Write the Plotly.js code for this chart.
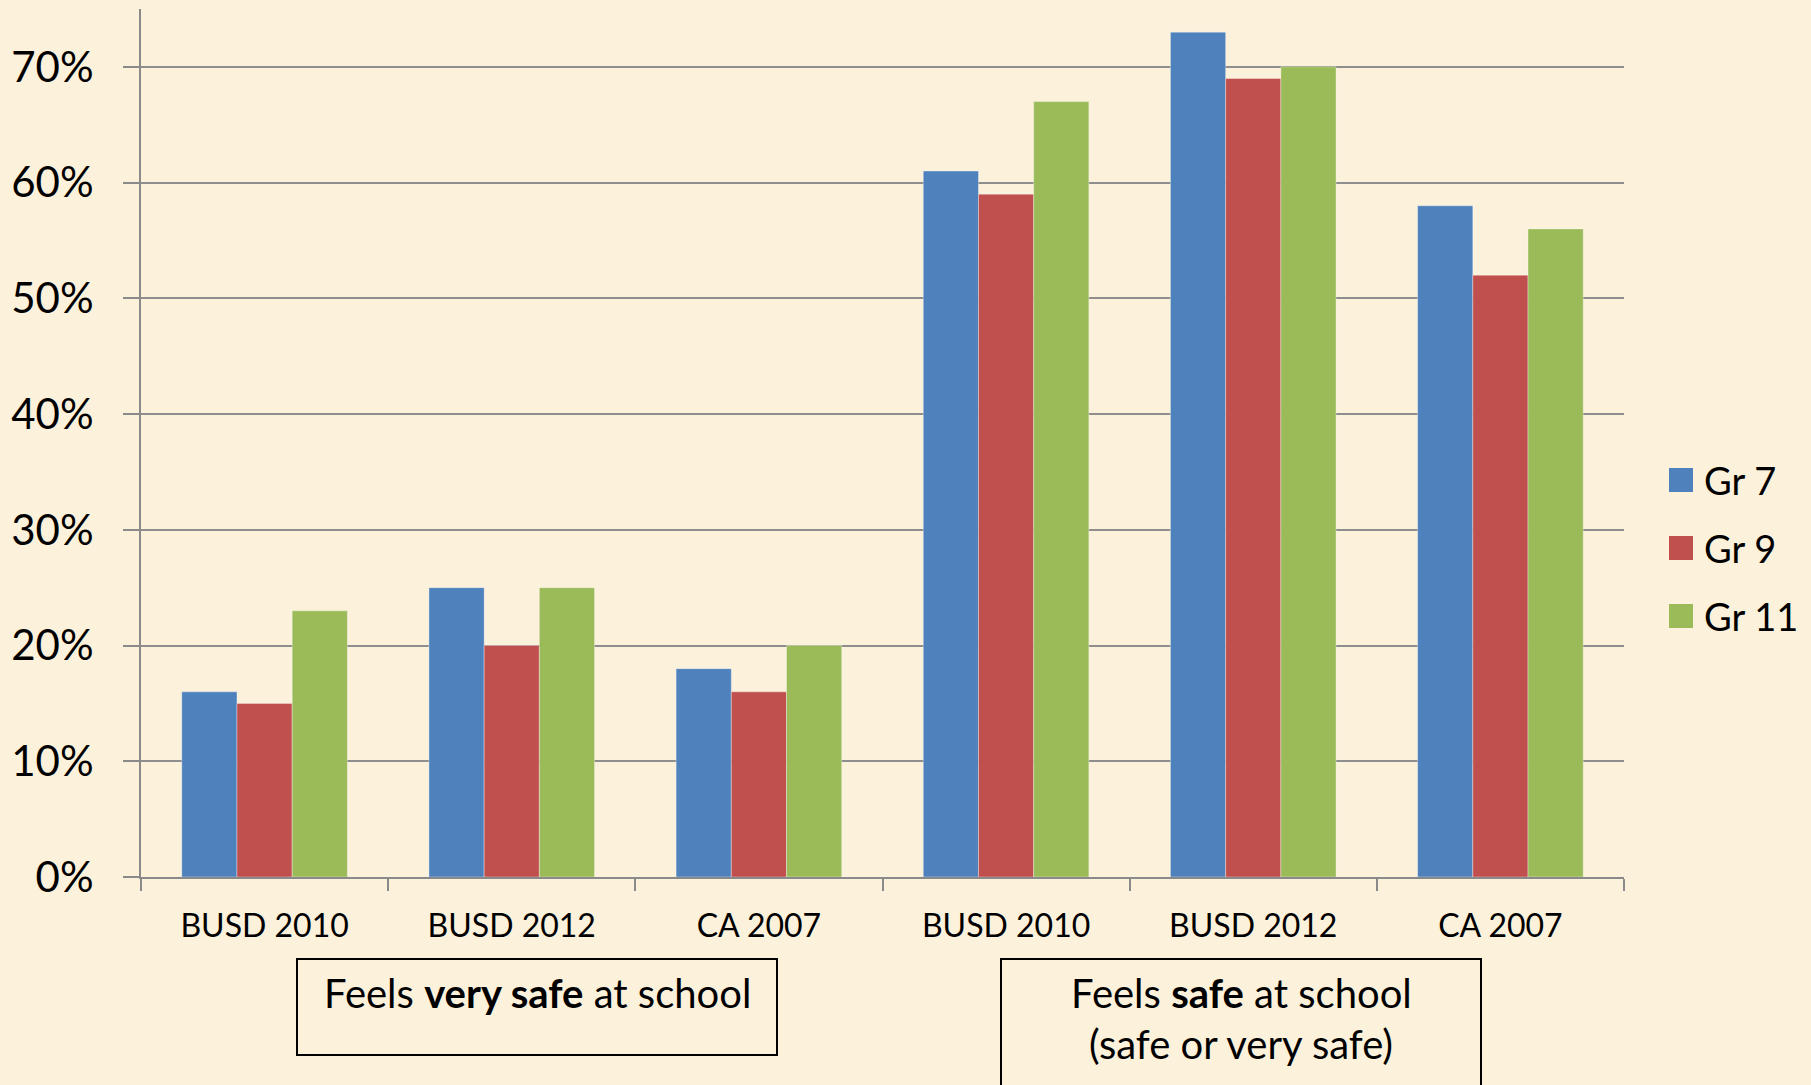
<!DOCTYPE html>
<html>
<head>
<meta charset="utf-8">
<script src="https://cdn.plot.ly/plotly-3.0.1.min.js"></script>
<style>
  html, body { margin: 0; padding: 0; background: #FCF1DB; }
  #chart { width: 1811px; height: 1085px; }
</style>
</head>
<body>
<div id="chart"></div>
<script>
// ---- data ----
const categories = ["BUSD 2010", "BUSD 2012", "CA 2007", "BUSD 2010", "BUSD 2012", "CA 2007"];
const seriesNames = ["Gr 7", "Gr 9", "Gr 11"];
const gr7  = [0.16, 0.25, 0.18, 0.61, 0.73, 0.58];
const gr9  = [0.15, 0.20, 0.16, 0.59, 0.69, 0.52];
const gr11 = [0.23, 0.25, 0.20, 0.67, 0.70, 0.56];
const yTickVals = [0, 0.1, 0.2, 0.3, 0.4, 0.5, 0.6, 0.7];
const groupLabel1 = "Feels <b>very safe</b> at school";
const groupLabel2a = "Feels <b>safe</b> at school";
const groupLabel2b = "(safe or very safe)";

// ---- style ----
const colors = ["#4F81BD", "#C0504D", "#9BBB59"];
const FONT = "Lato, 'Open Sans', sans-serif";
const W = 1811, H = 1085;
const plotL = 141, plotR = 1624, plotT = 9, plotB = 877;
const px2x = p => (p - plotL) / (plotR - plotL);
const px2y = p => (plotB - p) / (plotB - plotT);

const xIdx = categories.map((_, i) => i);
const allSeries = [gr7, gr9, gr11];

const traces = allSeries.map((vals, k) => ({
  type: "bar",
  name: seriesNames[k],
  x: xIdx,
  y: vals,
  marker: { color: colors[k], line: { color: "rgba(255,255,255,0.35)", width: 1 } },
  hoverinfo: "x+y+name"
}));

const boundaries = categories.map((_, i) => i - 0.5).concat([categories.length - 0.5]);

const shapes = [];
const annotations = [];

// legend built from series names/colours
const legendY = [480, 548, 616];
seriesNames.forEach((nm, k) => {
  const cx = 1681, cy = legendY[k], hs = 12;
  shapes.push({
    type: "rect", xref: "paper", yref: "paper",
    x0: px2x(cx - hs), x1: px2x(cx + hs), y0: px2y(cy + hs), y1: px2y(cy - hs),
    fillcolor: colors[k], line: { width: 0 }
  });
  annotations.push({
    xref: "paper", yref: "paper", x: px2x(1702), y: px2y(cy),
    xanchor: "left", yanchor: "middle", showarrow: false,
    text: nm, font: { family: FONT, size: 38, color: "#000" }
  });
});

// group boxes
shapes.push({
  type: "rect", xref: "paper", yref: "paper",
  x0: px2x(297), x1: px2x(777), y0: px2y(1055), y1: px2y(959),
  line: { color: "#000", width: 2 }, fillcolor: "rgba(0,0,0,0)"
});
shapes.push({
  type: "rect", xref: "paper", yref: "paper",
  x0: px2x(1001), x1: px2x(1481), y0: px2y(1100), y1: px2y(959),
  line: { color: "#000", width: 2 }, fillcolor: "rgba(0,0,0,0)"
});
annotations.push({
  xref: "paper", yref: "paper", x: px2x(537), y: px2y(993),
  xanchor: "center", yanchor: "middle", showarrow: false,
  text: groupLabel1, font: { family: FONT, size: 40, color: "#000" }
});
annotations.push({
  xref: "paper", yref: "paper", x: px2x(1241), y: px2y(993),
  xanchor: "center", yanchor: "middle", showarrow: false,
  text: groupLabel2a, font: { family: FONT, size: 40, color: "#000" }
});
annotations.push({
  xref: "paper", yref: "paper", x: px2x(1241), y: px2y(1044),
  xanchor: "center", yanchor: "middle", showarrow: false,
  text: groupLabel2b, font: { family: FONT, size: 40, color: "#000" }
});

const layout = {
  width: W, height: H,
  margin: { l: plotL, r: W - plotR, t: plotT, b: H - plotB, pad: 0 },
  paper_bgcolor: "#FCF1DB",
  plot_bgcolor: "rgba(0,0,0,0)",
  showlegend: false,
  barmode: "group",
  bargap: 0.33,
  bargroupgap: 0,
  font: { family: FONT, color: "#000" },
  xaxis: {
    type: "linear",
    range: [-0.5, categories.length - 0.5],
    tickmode: "array",
    tickvals: xIdx,
    ticktext: categories,
    ticks: "",
    tickfont: { family: FONT, size: 32, color: "#000" },
    ticklabelstandoff: 20,
    showgrid: false,
    zeroline: false,
    showline: true,
    linecolor: "#8A8A8A",
    linewidth: 2,
    minor: {
      tickmode: "array",
      tickvals: boundaries,
      ticks: "outside",
      ticklen: 12,
      tickwidth: 2,
      tickcolor: "#8A8A8A",
      showgrid: false
    },
    fixedrange: true
  },
  yaxis: {
    range: [0, 0.75],
    tickmode: "array",
    tickvals: yTickVals,
    tickformat: ".0%",
    ticks: "outside",
    ticklen: 16,
    tickwidth: 2,
    tickcolor: "#8A8A8A",
    tickfont: { family: FONT, size: 42, color: "#000" },
    ticklabelstandoff: 21,
    showgrid: true,
    gridcolor: "#8E8E8E",
    gridwidth: 2,
    zeroline: false,
    showline: true,
    linecolor: "#8A8A8A",
    linewidth: 2,
    fixedrange: true
  },
  shapes: shapes,
  annotations: annotations
};

Plotly.newPlot("chart", traces, layout, { displayModeBar: false, staticPlot: true });
</script>
</body>
</html>
